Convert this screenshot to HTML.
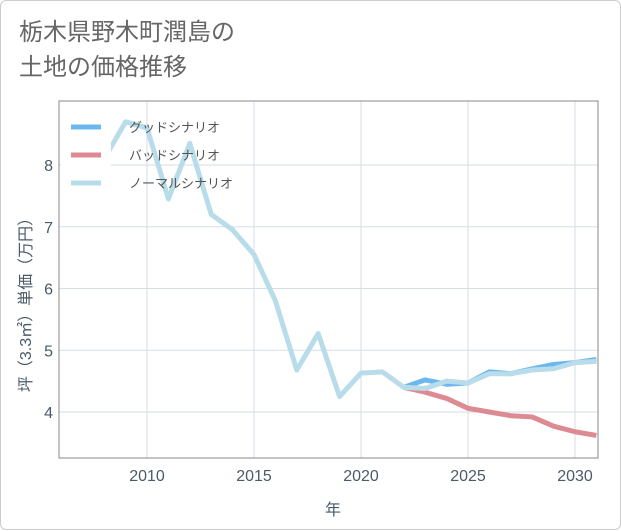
<!DOCTYPE html>
<html><head><meta charset="utf-8"><style>
body{margin:0;background:#fff;}
.card{position:absolute;left:0;top:0;width:619px;height:528px;border:1px solid #ccc;border-radius:6px;background:#fff;}
.title{position:absolute;left:18px;top:14px;font:24px "Liberation Sans","Noto Sans CJK JP",sans-serif;color:#666;line-height:35px;}
svg text{font-family:"Liberation Sans","Noto Sans CJK JP",sans-serif;}
</style></head><body>
<div class="card">
<div class="title">栃木県野木町潤島の<br>土地の価格推移</div>
<svg id="chart" width="621" height="530" style="position:absolute;left:0;top:0"></svg>
</div>
<script>
const years=[2008,2009,2010,2011,2012,2013,2014,2015,2016,2017,2018,2019,2020,2021,2022,2023,2024,2025,2026,2027,2028,2029,2030,2031];
const normal=[8.1,8.7,8.6,7.45,8.35,7.2,6.95,6.55,5.8,4.68,5.27,4.25,4.63,4.65,4.4,4.38,4.5,4.47,4.62,4.62,4.68,4.7,4.8,4.82];
const futYears=[2022,2023,2024,2025,2026,2027,2028,2029,2030,2031];
const good=[4.4,4.52,4.45,4.47,4.65,4.62,4.7,4.77,4.8,4.85];
const bad=[4.4,4.32,4.22,4.06,4.0,3.94,3.92,3.77,3.68,3.62];
const xTicks=[2010,2015,2020,2025,2030];
const yTicks=[4,5,6,7,8];
const L=58,R=597,T=100,B=457;
const x=v=>146+(v-2010)*21.4;
const y=v=>411-(v-4)*61.75;
const svg=document.getElementById('chart');
const NS='http://www.w3.org/2000/svg';
function mk(t,a,p){const e=document.createElementNS(NS,t);for(const k in a)e.setAttribute(k,a[k]);(p||svg).appendChild(e);return e;}
const clipDef=mk('defs',{});const cp=mk('clipPath',{id:'c'},clipDef);mk('rect',{x:L,y:T,width:R-L,height:B-T},cp);
xTicks.forEach(v=>{const g=mk('line',{x1:x(v),x2:x(v),y1:T,y2:B,stroke:'#d5dde6','stroke-width':1});


const t=mk('text',{x:x(v),y:480,'text-anchor':'middle','font-size':16,fill:'#4a5a6a'});t.textContent=v;

});
yTicks.forEach(v=>{const g=mk('line',{x1:L,x2:R,y1:y(v),y2:y(v),stroke:'#d5dde6','stroke-width':1});


const t=mk('text',{x:52,y:y(v)+6,'text-anchor':'end','font-size':16,fill:'#4a5a6a'});t.textContent=v;

});
const frame=mk('rect',{x:L,y:T,width:R-L,height:B-T,fill:'none',stroke:'#888','stroke-width':1});


function line(xs,vs,c,name){const p=mk('polyline',{points:xs.map((v,i)=>x(v)+','+y(vs[i])).join(' '),fill:'none',stroke:c,'stroke-width':5,'stroke-linejoin':'round','clip-path':'url(#c)'});

}
line(futYears,bad,'#de8a92','line-bad-scenario');
line(futYears,good,'#6cb8ee','line-good-scenario');
line(years,normal,'#b8dcea','line-normal-scenario');
const lb=mk('rect',{x:60,y:104,width:50,height:92,fill:'#fff','fill-opacity':0.95});


[['グッドシナリオ','#6cb8ee',126],['バッドシナリオ','#de8a92',154],['ノーマルシナリオ','#b8dcea',182]].forEach(([n,c,yy])=>{
const s=mk('line',{x1:70,x2:100,y1:yy,y2:yy,stroke:c,'stroke-width':5});


const t=mk('text',{x:128,y:yy+5,'font-size':13,fill:'#555'});t.textContent=n;

});
const xt=mk('text',{x:332,y:514,'text-anchor':'middle','font-size':16,fill:'#4a5a6a'});xt.textContent='年';


const yt=mk('text',{x:0,y:0,'text-anchor':'middle','font-size':16,fill:'#4a5a6a',transform:'translate(30,300) rotate(-90)'});yt.textContent='坪（3.3㎡）単価（万円）';


</script>
</body></html>
